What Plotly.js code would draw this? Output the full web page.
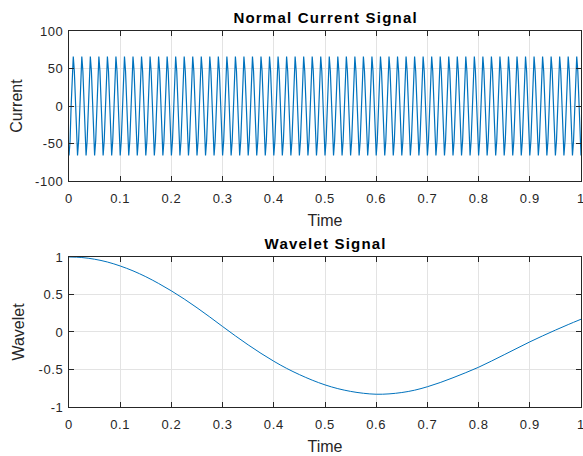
<!DOCTYPE html>
<html>
<head>
<meta charset="utf-8">
<script src="https://cdn.plot.ly/plotly-3.0.1.min.js"></script>
<style>
html,body{margin:0;padding:0;background:#fff;}
#chart{width:583px;height:456px;}
#chart .annotation-text{letter-spacing:1.2px;}
#chart .xtick text,#chart .x2tick text,#chart .ytick text,#chart .y2tick text{letter-spacing:0.6px;}
</style>
</head>
<body>
<div id="chart"></div>
<script>
// Normal current signal: 8 samples per period, 60 cycles over 1 s
const currentStep = 1 / 480;
const currentValues = [
-66,-46.7,0,46.7,66,46.7,0,-46.7, -66,-46.7,0,46.7,66,46.7,0,-46.7, -66,-46.7,0,46.7,66,46.7,0,-46.7,
-66,-46.7,0,46.7,66,46.7,0,-46.7, -66,-46.7,0,46.7,66,46.7,0,-46.7, -66,-46.7,0,46.7,66,46.7,0,-46.7,
-66,-46.7,0,46.7,66,46.7,0,-46.7, -66,-46.7,0,46.7,66,46.7,0,-46.7, -66,-46.7,0,46.7,66,46.7,0,-46.7,
-66,-46.7,0,46.7,66,46.7,0,-46.7, -66,-46.7,0,46.7,66,46.7,0,-46.7, -66,-46.7,0,46.7,66,46.7,0,-46.7,
-66,-46.7,0,46.7,66,46.7,0,-46.7, -66,-46.7,0,46.7,66,46.7,0,-46.7, -66,-46.7,0,46.7,66,46.7,0,-46.7,
-66,-46.7,0,46.7,66,46.7,0,-46.7, -66,-46.7,0,46.7,66,46.7,0,-46.7, -66,-46.7,0,46.7,66,46.7,0,-46.7,
-66,-46.7,0,46.7,66,46.7,0,-46.7, -66,-46.7,0,46.7,66,46.7,0,-46.7, -66,-46.7,0,46.7,66,46.7,0,-46.7,
-66,-46.7,0,46.7,66,46.7,0,-46.7, -66,-46.7,0,46.7,66,46.7,0,-46.7, -66,-46.7,0,46.7,66,46.7,0,-46.7,
-66,-46.7,0,46.7,66,46.7,0,-46.7, -66,-46.7,0,46.7,66,46.7,0,-46.7, -66,-46.7,0,46.7,66,46.7,0,-46.7,
-66,-46.7,0,46.7,66,46.7,0,-46.7, -66,-46.7,0,46.7,66,46.7,0,-46.7, -66,-46.7,0,46.7,66,46.7,0,-46.7,
-66,-46.7,0,46.7,66,46.7,0,-46.7, -66,-46.7,0,46.7,66,46.7,0,-46.7, -66,-46.7,0,46.7,66,46.7,0,-46.7,
-66,-46.7,0,46.7,66,46.7,0,-46.7, -66,-46.7,0,46.7,66,46.7,0,-46.7, -66,-46.7,0,46.7,66,46.7,0,-46.7,
-66,-46.7,0,46.7,66,46.7,0,-46.7, -66,-46.7,0,46.7,66,46.7,0,-46.7, -66,-46.7,0,46.7,66,46.7,0,-46.7,
-66,-46.7,0,46.7,66,46.7,0,-46.7, -66,-46.7,0,46.7,66,46.7,0,-46.7, -66,-46.7,0,46.7,66,46.7,0,-46.7,
-66,-46.7,0,46.7,66,46.7,0,-46.7, -66,-46.7,0,46.7,66,46.7,0,-46.7, -66,-46.7,0,46.7,66,46.7,0,-46.7,
-66,-46.7,0,46.7,66,46.7,0,-46.7, -66,-46.7,0,46.7,66,46.7,0,-46.7, -66,-46.7,0,46.7,66,46.7,0,-46.7,
-66,-46.7,0,46.7,66,46.7,0,-46.7, -66,-46.7,0,46.7,66,46.7,0,-46.7, -66,-46.7,0,46.7,66,46.7,0,-46.7,
-66,-46.7,0,46.7,66,46.7,0,-46.7, -66,-46.7,0,46.7,66,46.7,0,-46.7, -66,-46.7,0,46.7,66,46.7,0,-46.7,
-66,-46.7,0,46.7,66,46.7,0,-46.7, -66,-46.7,0,46.7,66,46.7,0,-46.7, -66,-46.7,0,46.7,66,46.7,0,-46.7,
-66,-46.7,0,46.7,66,46.7,0,-46.7, -66,-46.7,0,46.7,66,46.7,0,-46.7, -66,-46.7,0,46.7,66,46.7,0,-46.7,
-66
];

const waveletStep = 0.025;
const waveletValues = [
  1.0, 0.993, 0.97, 0.933, 0.88, 0.815, 0.737, 0.647, 0.548, 0.44,
  0.323, 0.2, 0.073, -0.052, -0.172, -0.285, -0.39, -0.485, -0.568, -0.642,
  -0.705, -0.755, -0.792, -0.817, -0.83, -0.825, -0.807, -0.776, -0.73, -0.674,
  -0.61, -0.542, -0.47, -0.388, -0.303, -0.217, -0.132, -0.052, 0.025, 0.099,
  0.17];

const timeTicks = [0, 0.1, 0.2, 0.3, 0.4, 0.5, 0.6, 0.7, 0.8, 0.9, 1];
const timeTickText = ['0', '0.1', '0.2', '0.3', '0.4', '0.5', '0.6', '0.7', '0.8', '0.9', '1'];
const currentTicks = [-100, -50, 0, 50, 100];
const currentTickText = ['-100', '-50', '0', '50', '100'];
const waveletTicks = [-1, -0.5, 0, 0.5, 1];
const waveletTickText = ['-1', '-0.5', '0', '0.5', '1'];

const blue = '#0072BD';
const axColor = '#262626';
const gridColor = '#e3e3e3';
const font = 'Liberation Sans, Arial, sans-serif';

const traces = [
  {x0: 0, dx: currentStep, y: currentValues, type: 'scatter', mode: 'lines',
   line: {color: blue, width: 1.2}, xaxis: 'x', yaxis: 'y', hoverinfo: 'skip'},
  {x0: 0, dx: waveletStep, y: waveletValues, type: 'scatter', mode: 'lines',
   line: {color: blue, width: 1, shape: 'spline', smoothing: 1}, xaxis: 'x2', yaxis: 'y2', hoverinfo: 'skip'}
];

function axisBase(extra) {
  return Object.assign({
    showline: true, linecolor: axColor, linewidth: 1, mirror: 'ticks',
    ticks: 'inside', ticklen: 5, tickcolor: axColor, tickwidth: 1,
    showgrid: true, gridcolor: gridColor, gridwidth: 1, zeroline: false,
    tickfont: {family: font, size: 13, color: axColor}, fixedrange: true
  }, extra);
}
function xAxis(anchor) {
  return axisBase({domain: [0, 1], range: [0, 1], tickmode: 'array', tickvals: timeTicks, ticktext: timeTickText,
    anchor: anchor, ticklabelstandoff: 5, ticklabeloverflow: 'allow',
    title: {text: 'Time', font: {family: font, size: 16, color: axColor}, standoff: 10}});
}
function yAxis(domain, range, vals, text, label, anchor, standoff) {
  return axisBase({domain: domain, range: range, tickmode: 'array', tickvals: vals, ticktext: text,
    anchor: anchor, ticklabelstandoff: 2,
    title: {text: label, font: {family: font, size: 16, color: axColor}, standoff: standoff}});
}

const topDomain = [0.601, 1];
const botDomain = [0, 0.399];

const layout = {
  width: 583, height: 456,
  margin: {l: 69, r: 2, t: 31, b: 49},
  paper_bgcolor: '#ffffff', plot_bgcolor: '#ffffff',
  showlegend: false,
  xaxis: xAxis('y'),
  yaxis: yAxis(topDomain, [-100, 100], currentTicks, currentTickText, 'Current', 'x', 10),
  xaxis2: xAxis('y2'),
  yaxis2: yAxis(botDomain, [-1, 1], waveletTicks, waveletTickText, 'Wavelet', 'x2', 12),
  annotations: [
    {text: '<b>Normal Current Signal</b>', xref: 'paper', yref: 'paper', x: 0.5, y: topDomain[1], yshift: 3,
     xanchor: 'center', yanchor: 'bottom', showarrow: false, font: {family: font, size: 15, color: '#000'}},
    {text: '<b>Wavelet Signal</b>', xref: 'paper', yref: 'paper', x: 0.5, y: botDomain[1], yshift: 3,
     xanchor: 'center', yanchor: 'bottom', showarrow: false, font: {family: font, size: 15, color: '#000'}}
  ]
};

Plotly.newPlot('chart', traces, layout, {displayModeBar: false, staticPlot: true});
</script>
</body>
</html>
